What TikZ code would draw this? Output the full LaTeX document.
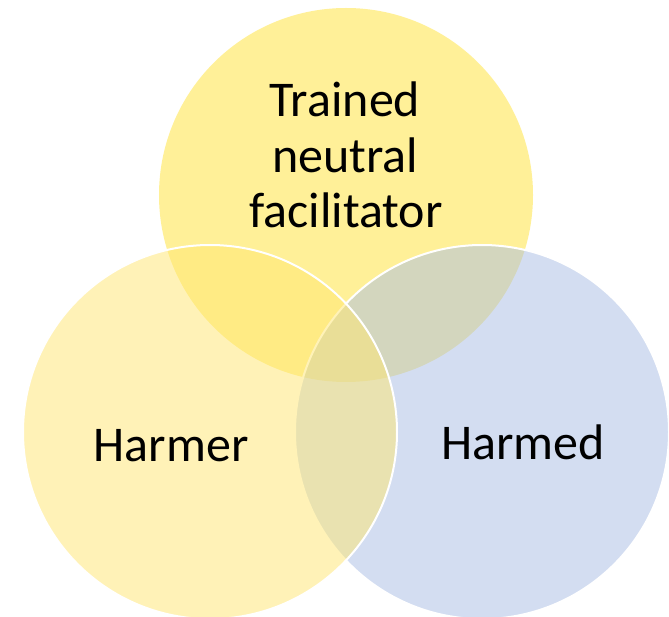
\documentclass[tikz,border=0pt]{standalone}
\usepackage{fontspec}
\setmainfont{Carlito}
\definecolor{topc}{RGB}{255,227,51}
\definecolor{leftc}{RGB}{255,231,113}
\definecolor{rightc}{RGB}{169,189,229}
\tikzset{
  venn/.style={fill opacity=0.5},
  rim/.style={draw=white, line width=2pt},
  lbl/.style={anchor=base, inner sep=0pt, font=\fontsize{50}{56}\selectfont, text=black}
}
\begin{document}
\begin{tikzpicture}[x=1pt,y=-1pt]
\useasboundingbox (0,0) rectangle (669,617);
\fill[white] (0,0) rectangle (669,617);
\coordinate (ct) at (346,195);
\coordinate (cl) at (210,432);
\coordinate (cr) at (482,432);
\fill[venn, fill=topc] (ct) circle[radius=187pt];
\path[venn, fill=rightc, rim] (cr) circle[radius=187pt];
\path[venn, fill=leftc, rim] (cl) circle[radius=187pt];
\node[lbl] (t1) at (345,117) {Trained};
\node[lbl] (t2) at (345,173) {neutral};
\node[lbl] (t3) at (346,228) {facilitator};
\node[lbl] (hr) at (171,461) {Harmer};
\node[lbl] (hd) at (523,459) {Harmed};
\end{tikzpicture}
\end{document}
